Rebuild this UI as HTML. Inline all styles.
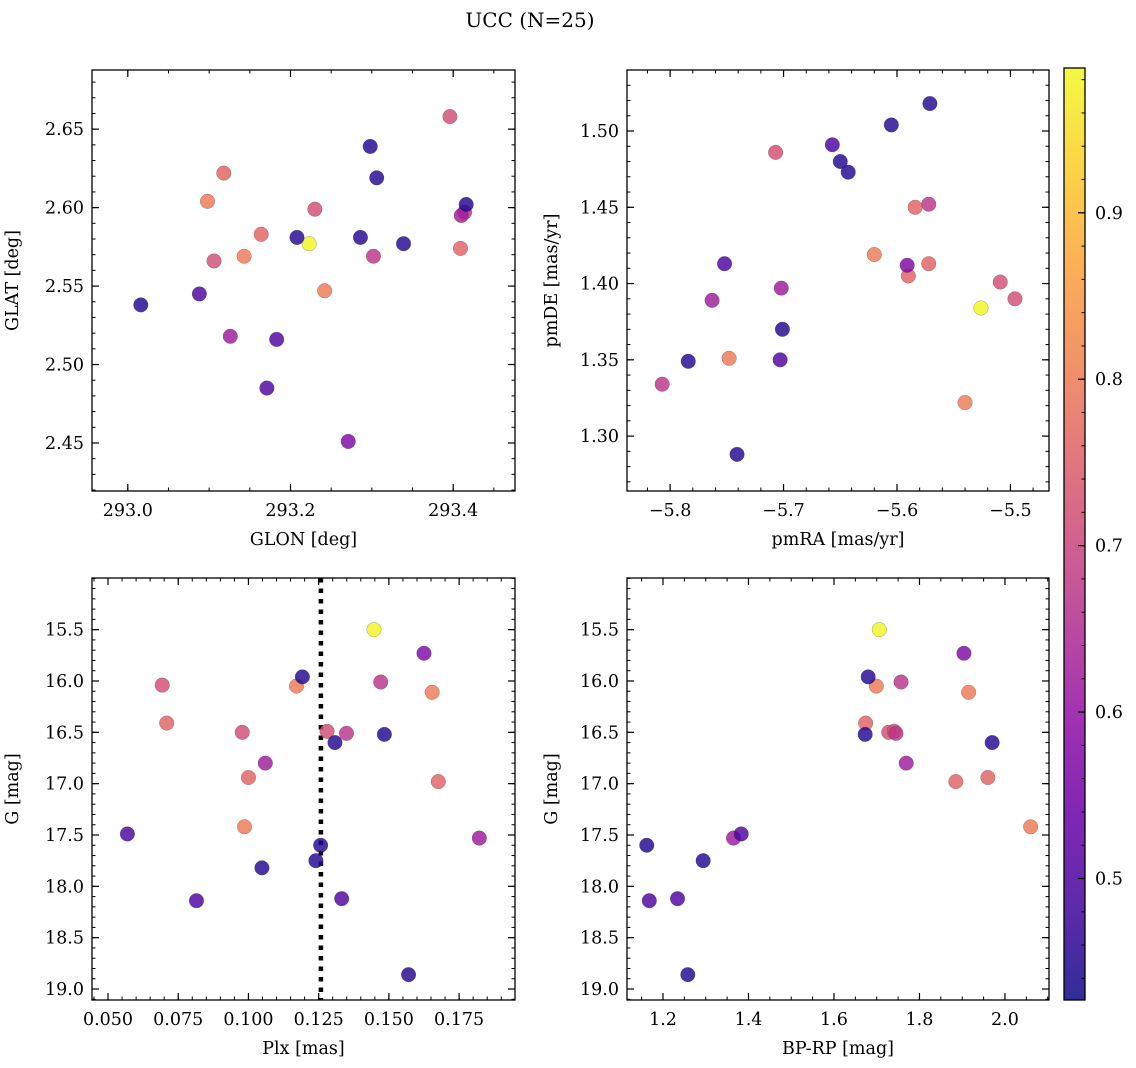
<!DOCTYPE html>
<html><head><meta charset="utf-8">
<style>
html,body{margin:0;padding:0;background:#fff;}
svg{display:block;font-family:"DejaVu Serif","Liberation Serif",serif;}
</style></head>
<body>
<svg id="fig" width="1136" height="1068" viewBox="0 0 1136 1068" xmlns="http://www.w3.org/2000/svg">
<text x="530" y="27" font-size="20" text-anchor="middle">UCC (N=25)</text>
</svg>
<script>
// ---- data (25 members) ----
const glon = [293.223,293.098,293.242,293.143,293.118,293.164,293.409,293.396,293.230,293.106,293.302,293.414,293.126,293.410,293.271,293.088,293.183,293.171,293.298,293.306,293.416,293.208,293.286,293.339,293.016];
const glat = [2.577,2.604,2.547,2.569,2.622,2.583,2.574,2.658,2.599,2.566,2.569,2.597,2.518,2.595,2.451,2.545,2.516,2.485,2.639,2.619,2.602,2.581,2.581,2.577,2.538];
const pmra = [-5.526,-5.620,-5.748,-5.540,-5.584,-5.572,-5.590,-5.707,-5.509,-5.496,-5.572,-5.807,-5.702,-5.763,-5.591,-5.657,-5.752,-5.703,-5.571,-5.605,-5.650,-5.643,-5.701,-5.784,-5.741];
const pmde = [1.384,1.419,1.351,1.322,1.450,1.413,1.405,1.486,1.401,1.390,1.452,1.334,1.397,1.389,1.412,1.491,1.413,1.350,1.518,1.504,1.480,1.473,1.370,1.349,1.288];
const plx = [0.1447,0.1171,0.1654,0.0986,0.0709,0.1000,0.1676,0.0693,0.0978,0.1280,0.1349,0.1471,0.1060,0.1822,0.1625,0.0569,0.0815,0.1332,0.1192,0.1484,0.1308,0.1257,0.1240,0.1048,0.1570];
const gmag = [15.50,16.05,16.11,17.42,16.41,16.94,16.98,16.04,16.50,16.49,16.51,16.01,16.80,17.53,15.73,17.49,18.14,18.12,15.96,16.52,16.60,17.60,17.75,17.82,18.86];
const bprp = [1.706,1.699,1.915,2.060,1.674,1.960,1.885,null,1.728,1.741,1.745,1.757,1.769,1.365,1.904,1.383,1.168,1.234,1.680,1.673,1.970,1.162,1.294,null,1.258];
const prob = [0.98,0.80,0.80,0.80,0.76,0.76,0.76,0.72,0.72,0.72,0.67,0.67,0.62,0.62,0.57,0.50,0.50,0.50,0.45,0.45,0.45,0.45,0.45,0.45,0.45];
const plxMean = 0.1258;
const cbRange = [0.427,0.987];
const cbTicks = [0.5,0.6,0.7,0.8,0.9];

const NS="http://www.w3.org/2000/svg";
const svg=document.getElementById('fig');
function mk(tag,attrs,parent){const e=document.createElementNS(NS,tag);for(const k in attrs)e.setAttribute(k,attrs[k]);(parent||svg).appendChild(e);return e;}

const stops=[[13,8,135],[65,4,157],[106,0,168],[143,13,164],[177,42,144],[204,71,120],[225,100,98],[242,132,75],[252,166,54],[252,206,37],[240,249,33]];
function plasma(t){t=Math.max(0,Math.min(1,t));const f=t*10;const i=Math.min(9,Math.floor(f));const u=f-i;const a=stops[i],b=stops[i+1];
 return 'rgb('+[0,1,2].map(k=>Math.round(a[k]+(b[k]-a[k])*u)).join(',')+')';}
function cmap(p){return plasma((p-cbRange[0])/(cbRange[1]-cbRange[0]));}
function fmt(v,d){const s=v.toFixed(d);return v<0?'\u2212'+s.slice(1):s;}
const FS=17.5;

function panel(cfg){
 const g=mk('g',{});
 
 
 const {x0,x1,y0,y1,xd,yd}=cfg;
 const sx=v=>x0+(v-xd[0])/(xd[1]-xd[0])*(x1-x0);
 const sy=v=>cfg.yinv? y0+(v-yd[0])/(yd[1]-yd[0])*(y1-y0) : y1-(v-yd[0])/(yd[1]-yd[0])*(y1-y0);
 const eps=1e-9;
 function ticksRange(lo,hi,step){const a=[];let s=Math.ceil(lo/step-eps);for(let v=s*step;v<=hi+eps;v=(++s)*step)a.push(v);return a;}
 const xlo=Math.min(...xd),xhi=Math.max(...xd),ylo=Math.min(...yd),yhi=Math.max(...yd);
 ticksRange(xlo,xhi,cfg.xminor).forEach(v=>{const X=sx(v);mk('line',{x1:X,x2:X,y1:y1,y2:y1-3.5,stroke:'#000','stroke-width':1},g);mk('line',{x1:X,x2:X,y1:y0,y2:y0+3.5,stroke:'#000','stroke-width':1},g);});
 ticksRange(ylo,yhi,cfg.yminor).forEach(v=>{const Y=sy(v);mk('line',{x1:x0,x2:x0+3.5,y1:Y,y2:Y,stroke:'#000','stroke-width':1},g);mk('line',{x1:x1,x2:x1-3.5,y1:Y,y2:Y,stroke:'#000','stroke-width':1},g);});
 cfg.xticks.forEach(v=>{const X=sx(v);mk('line',{x1:X,x2:X,y1:y1,y2:y1-7,stroke:'#000','stroke-width':1.2},g);mk('line',{x1:X,x2:X,y1:y0,y2:y0+7,stroke:'#000','stroke-width':1.2},g);
   const t=mk('text',{x:X,y:y1+25,'font-size':FS,'text-anchor':'middle'},g);t.textContent=fmt(v,cfg.xdec);
   
   });
 cfg.yticks.forEach(v=>{const Y=sy(v);mk('line',{x1:x0,x2:x0+7,y1:Y,y2:Y,stroke:'#000','stroke-width':1.2},g);mk('line',{x1:x1,x2:x1-7,y1:Y,y2:Y,stroke:'#000','stroke-width':1.2},g);
   const t=mk('text',{x:x0-8,y:Y+6,'font-size':FS,'text-anchor':'end'},g);t.textContent=fmt(v,cfg.ydec);
   
   });
 if(cfg.vline!==undefined){const X=sx(cfg.vline);const l=mk('line',{x1:X,x2:X,y1:y0,y2:y1,stroke:'#000','stroke-width':4.5,'stroke-dasharray':'4.5 6'},g);
   
   }
 const xs=cfg.xs,ys=cfg.ys;
 for(let i=0;i<xs.length;i++){ if(xs[i]===null||ys[i]===null) continue;
   const c=mk('circle',{cx:sx(xs[i]),cy:sy(ys[i]),r:7.3,fill:cmap(prob[i]),'fill-opacity':0.82,stroke:'rgba(60,60,60,0.45)','stroke-width':0.5},g);
   
   }
 const fr=mk('rect',{x:x0,y:y0,width:x1-x0,height:y1-y0,fill:'none',stroke:'#000','stroke-width':1.3},g);
 
 
 const xl=mk('text',{x:(x0+x1)/2,y:y1+54,'font-size':FS,'text-anchor':'middle'},g);xl.textContent=cfg.xlabel;
 
 
 const yx=x0-cfg.ylabOff, yy=(y0+y1)/2;
 const yl=mk('text',{x:yx,y:yy,'font-size':FS,'text-anchor':'middle',transform:`rotate(-90 ${yx} ${yy})`},g);yl.textContent=cfg.ylabel;
 
 
}

panel({name:'glon-glat-panel',x0:92,x1:515,y0:70,y1:491,xd:[292.956,293.476],yd:[2.4194,2.6877],xticks:[293.0,293.2,293.4],xminor:0.05,xdec:1,yticks:[2.45,2.50,2.55,2.60,2.65],yminor:0.01,ydec:2,xs:glon,ys:glat,xlabel:'GLON [deg]',ylabel:'GLAT [deg]',ylabOff:74});
panel({name:'pm-panel',x0:627,x1:1049,y0:70,y1:491,xd:[-5.838,-5.466],yd:[1.264,1.540],xticks:[-5.8,-5.7,-5.6,-5.5],xminor:0.02,xdec:1,yticks:[1.30,1.35,1.40,1.45,1.50],yminor:0.01,ydec:2,xs:pmra,ys:pmde,xlabel:'pmRA [mas/yr]',ylabel:'pmDE [mas/yr]',ylabOff:70});
panel({name:'plx-g-panel',x0:92,x1:515,y0:578,y1:1000,xd:[0.0443,0.1949],yd:[14.997,19.107],yinv:true,xticks:[0.05,0.075,0.1,0.125,0.15,0.175],xminor:0.005,xdec:3,yticks:[15.5,16.0,16.5,17.0,17.5,18.0,18.5,19.0],yminor:0.1,ydec:1,xs:plx,ys:gmag,vline:plxMean,xlabel:'Plx [mas]',ylabel:'G [mag]',ylabOff:74});
panel({name:'cmd-panel',x0:627,x1:1049,y0:578,y1:1000,xd:[1.1158,2.103],yd:[14.997,19.107],yinv:true,xticks:[1.2,1.4,1.6,1.8,2.0],xminor:0.05,xdec:1,yticks:[15.5,16.0,16.5,17.0,17.5,18.0,18.5,19.0],yminor:0.1,ydec:1,xs:bprp,ys:gmag,xlabel:'BP-RP [mag]',ylabel:'G [mag]',ylabOff:70});

// colorbar
(function(){
 const g=mk('g',{});
 
 
 const x0=1064,x1=1085,y0=68,y1=1000;
 const defs=mk('defs',{},g);
 const lg=mk('linearGradient',{id:'cbg',x1:0,y1:1,x2:0,y2:0},defs);
 for(let k=0;k<=20;k++){const p=cbRange[0]+(cbRange[1]-cbRange[0])*k/20;mk('stop',{offset:k/20,'stop-color':cmap(p),'stop-opacity':0.85},lg);}
 mk('rect',{x:x0,y:y0,width:x1-x0,height:y1-y0,fill:'url(#cbg)'},g);
 const sy=v=>y1-(v-cbRange[0])/(cbRange[1]-cbRange[0])*(y1-y0);
 for(let v=0.44;v<cbRange[1];v+=0.02){const Y=sy(v);mk('line',{x1:x1,x2:x1-3.5,y1:Y,y2:Y,stroke:'#000','stroke-width':1},g);}
 cbTicks.forEach(v=>{const Y=sy(v);mk('line',{x1:x1,x2:x1-7,y1:Y,y2:Y,stroke:'#000','stroke-width':1.2},g);
   const t=mk('text',{x:x1+10,y:Y+6,'font-size':FS},g);t.textContent=v.toFixed(1);
   
   });
 mk('rect',{x:x0,y:y0,width:x1-x0,height:y1-y0,fill:'none',stroke:'#000','stroke-width':1.3},g);
})();
</script>
</body></html>
